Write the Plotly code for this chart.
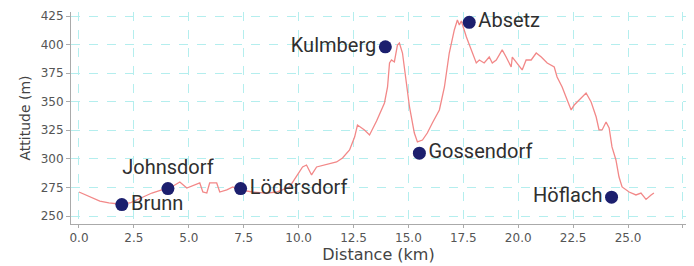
import plotly.graph_objects as go

# Elevation profile (distance km, altitude m)
dist_km = [0.0, 0.5, 0.95, 1.36, 1.82, 2.32, 2.86, 3.32, 3.77, 4.14, 4.59, 4.91, 5.5, 5.64, 5.82,
           5.95, 6.27, 6.41, 6.73, 7.0, 7.32, 7.91, 8.55, 9.0, 9.59, 9.95, 10.18, 10.36, 10.59,
           10.82, 11.18, 11.73, 12.0, 12.32, 12.55, 12.68, 13.0, 13.23, 13.55, 13.91, 14.05,
           14.14, 14.23, 14.36, 14.5, 14.59, 14.73, 14.91, 15.05, 15.27, 15.41, 15.64, 15.86,
           16.09, 16.41, 16.64, 16.86, 17.09, 17.23, 17.32, 17.41, 17.64, 17.91, 18.09, 18.23,
           18.45, 18.68, 18.82, 19.0, 19.27, 19.45, 19.68, 19.73, 19.95, 20.18, 20.36, 20.59,
           20.82, 21.05, 21.32, 21.64, 21.77, 22.0, 22.23, 22.41, 22.55, 22.77, 23.09, 23.32,
           23.55, 23.68, 23.82, 24.0, 24.14, 24.27, 24.45, 24.59, 24.73, 25.05, 25.36, 25.59,
           25.82, 26.05, 26.18]
altitude_m = [271.0, 266.6, 263.1, 261.4, 260.5, 261.4, 265.8, 270.1, 272.8, 274.5, 279.8, 274.5,
              278.9, 271.0, 270.1, 278.9, 278.9, 271.0, 272.8, 275.4, 272.8, 271.0, 270.1, 271.0,
              275.4, 285.9, 292.9, 294.6, 285.9, 292.9, 294.6, 297.3, 300.8, 307.8, 319.1, 329.6,
              325.3, 320.9, 333.1, 348.9, 362.9, 383.9, 386.5, 384.8, 399.6, 401.4, 392.6, 362.9,
              345.4, 322.6, 314.8, 316.5, 322.6, 331.4, 342.8, 362.9, 392.6, 412.8, 421.5, 417.1,
              420.6, 406.6, 392.6, 383.9, 386.5, 383.9, 389.1, 383.9, 386.5, 395.3, 389.1, 380.4,
              389.1, 383.9, 377.8, 386.5, 386.5, 392.6, 389.1, 383.9, 380.4, 371.6, 362.9, 351.5,
              342.8, 347.1, 351.5, 357.6, 349.8, 336.6, 325.3, 325.3, 332.3, 327.0, 310.4, 299.0,
              284.1, 275.4, 271.0, 268.4, 270.1, 264.5, 268.4, 270.1]

# Places
place_names = ["Brunn", "Johnsdorf", "Lödersdorf", "Kulmberg", "Gossendorf", "Absetz", "Höflach"]
place_km = [1.95, 4.05, 7.36, 13.95, 15.5, 17.77, 24.25]
place_alt = [260, 274, 274, 398, 305, 419.5, 266.5]
place_textpos = ["middle right", "top center", "middle right", "middle left",
                 "middle right", "middle right", "middle left"]

x_ticks = [0.0, 2.5, 5.0, 7.5, 10.0, 12.5, 15.0, 17.5, 20.0, 22.5, 25.0, 27.5]
x_ticklabels = ["0.0", "2.5", "5.0", "7.5", "10.0", "12.5", "15.0", "17.5", "20.0", "22.5", "25.0", "27.5"]
y_ticks = [250, 275, 300, 325, 350, 375, 400, 425]

fig = go.Figure()
fig.add_trace(go.Scatter(x=dist_km, y=altitude_m, mode="lines",
                         line=dict(color="#f28888", width=1.3), hoverinfo="skip"))
fig.add_trace(go.Scatter(x=place_km, y=place_alt, mode="markers+text",
                         text=place_names, textposition=place_textpos,
                         marker=dict(size=13, color="#1c1f6e"),
                         textfont=dict(family="Roboto", size=20, color="#2f2f2f")))

grid_color = "#b4eeee"
# page body has an 8px margin, so the figure is sized to fit inside the window
fig.update_layout(
    width=686, height=258,
    margin=dict(l=63, r=8, t=4, b=42),
    paper_bgcolor="white", plot_bgcolor="white",
    showlegend=False,
    font=dict(family="DejaVu Sans", color="#555555"),
)
fig.update_xaxes(
    range=[-0.364, 27.64], tickvals=x_ticks, ticktext=x_ticklabels,
    showgrid=True, gridcolor=grid_color, griddash="dash", gridwidth=1,
    showline=True, linecolor="#aaaaaa", linewidth=1,
    ticks="outside", ticklen=3, tickcolor="#aaaaaa",
    tickfont=dict(size=12, color="#555555"),
    title=dict(text="Distance (km)", font=dict(size=16, color="#444444"), standoff=2),
    zeroline=False, automargin=False,
)
fig.update_yaxes(
    range=[243, 428.5], tickvals=y_ticks,
    showgrid=True, gridcolor=grid_color, griddash="dash", gridwidth=1,
    showline=True, linecolor="#aaaaaa", linewidth=1,
    ticks="outside", ticklen=4, tickcolor="#aaaaaa",
    tickfont=dict(size=12, color="#555555"),
    title=dict(text="Attitude (m)", font=dict(size=14, color="#444444"), standoff=6),
    zeroline=False, automargin=False,
)

fig.write_html("out.html")
